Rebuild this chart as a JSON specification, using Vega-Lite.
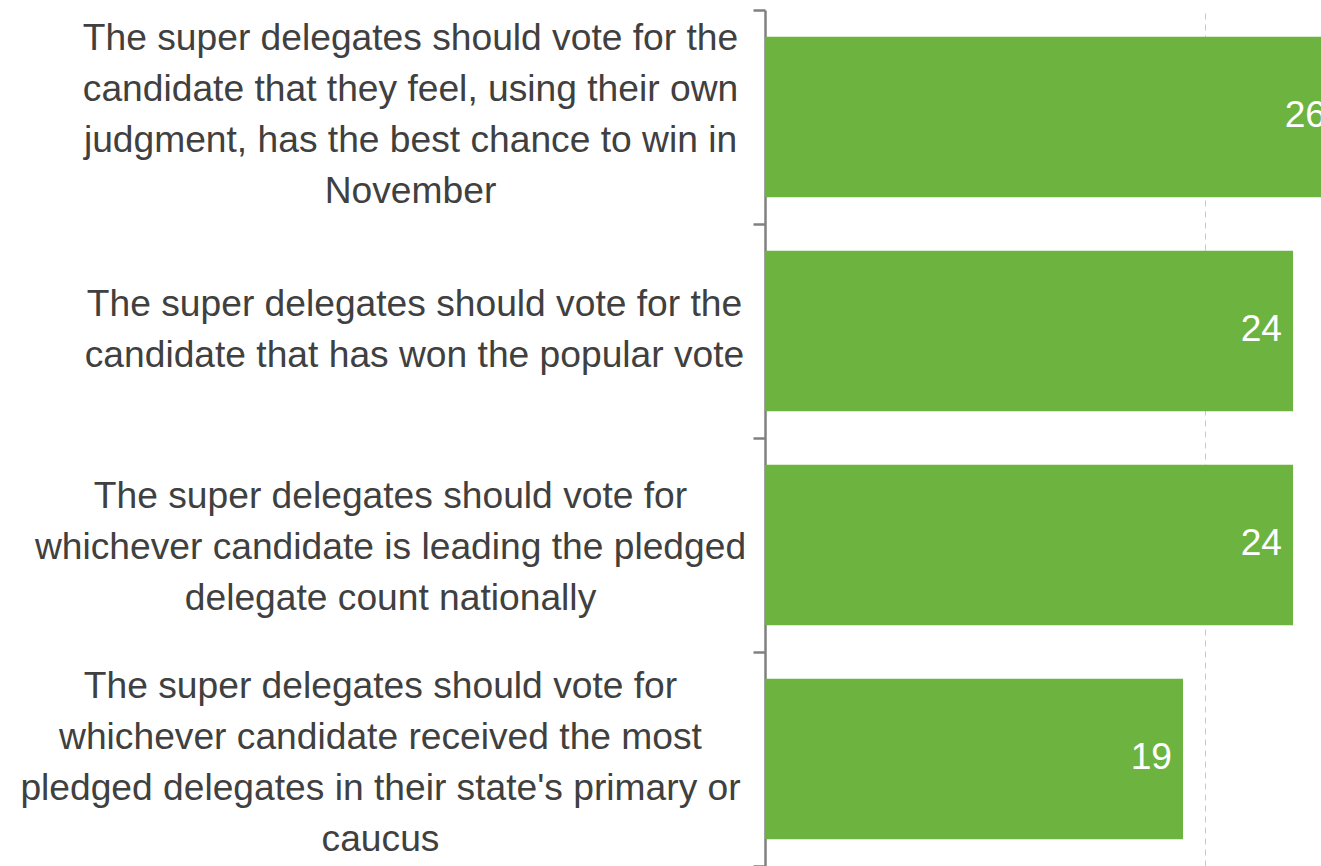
{
  "$schema": "https://vega.github.io/schema/vega-lite/v6.json",
  "autosize": "none",
  "padding": {"left": 765, "top": 10, "right": 0, "bottom": 0},
  "width": 556,
  "height": 856,
  "background": "white",
  "config": {"view": {"stroke": null}, "font": "Liberation Sans"},
  "data": {
    "values": [
      {"id": "b1", "label": "The super delegates should vote for the|candidate that they feel, using their own|judgment, has the best chance to win in|November", "value": 26},
      {"id": "b2", "label": "The super delegates should vote for the|candidate that has won the popular vote", "value": 24},
      {"id": "b3", "label": "The super delegates should vote for|whichever candidate is leading the pledged|delegate count nationally", "value": 24},
      {"id": "b4", "label": "The super delegates should vote for|whichever candidate received the most|pledged delegates in their state's primary or|caucus", "value": 19}
    ]
  },
  "encoding": {
    "y": {
      "field": "label",
      "type": "nominal",
      "sort": null,
      "scale": {"paddingInner": 0, "paddingOuter": 0},
      "axis": {
        "title": null,
        "labelExpr": "split(datum.label, '|')",
        "labelFont": "Liberation Sans",
        "labelFontSize": 37.2,
        "labelLineHeight": 51,
        "labelColor": "#404040",
        "labelAlign": "center",
        "labelBaseline": "middle",
        "labelPadding": {
          "condition": [
            {"test": "indexof(datum.label, 'November') >= 0", "value": 343},
            {"test": "indexof(datum.label, 'popular') >= 0", "value": 339},
            {"test": "indexof(datum.label, 'nationally') >= 0", "value": 363}
          ],
          "value": 373
        },
        "labelOffset": {
          "condition": [
            {"test": "indexof(datum.label, 'November') >= 0", "value": -79},
            {"test": "indexof(datum.label, 'popular') >= 0", "value": -27},
            {"test": "indexof(datum.label, 'nationally') >= 0", "value": -49}
          ],
          "value": -73
        },
        "labelLimit": 0,
        "labelOverlap": false,
        "labelBound": false,
        "labelFlush": false,
        "tickBand": "extent",
        "tickSize": 12,
        "tickWidth": 2.5,
        "tickColor": "#808080",
        "domainColor": "#808080",
        "domainWidth": 2.5
      }
    },
    "x": {
      "field": "value",
      "type": "quantitative",
      "scale": {"domain": [0, 25.27], "nice": false, "zero": true},
      "axis": {
        "title": null,
        "values": [20],
        "labels": false,
        "ticks": false,
        "domain": false,
        "grid": true,
        "gridColor": "#c8c8c8",
        "gridDash": [6, 5],
        "gridWidth": 1
      }
    }
  },
  "layer": [
    {"mark": {"type": "bar", "color": "#6db33f", "clip": false, "height": {"band": 0.75}}},
    {
      "mark": {"type": "text", "align": "right", "baseline": "middle", "dx": -11, "dy": -1, "color": "white", "fontSize": 37.2, "font": "Liberation Sans"},
      "encoding": {"text": {"field": "value", "type": "quantitative"}}
    }
  ]
}
